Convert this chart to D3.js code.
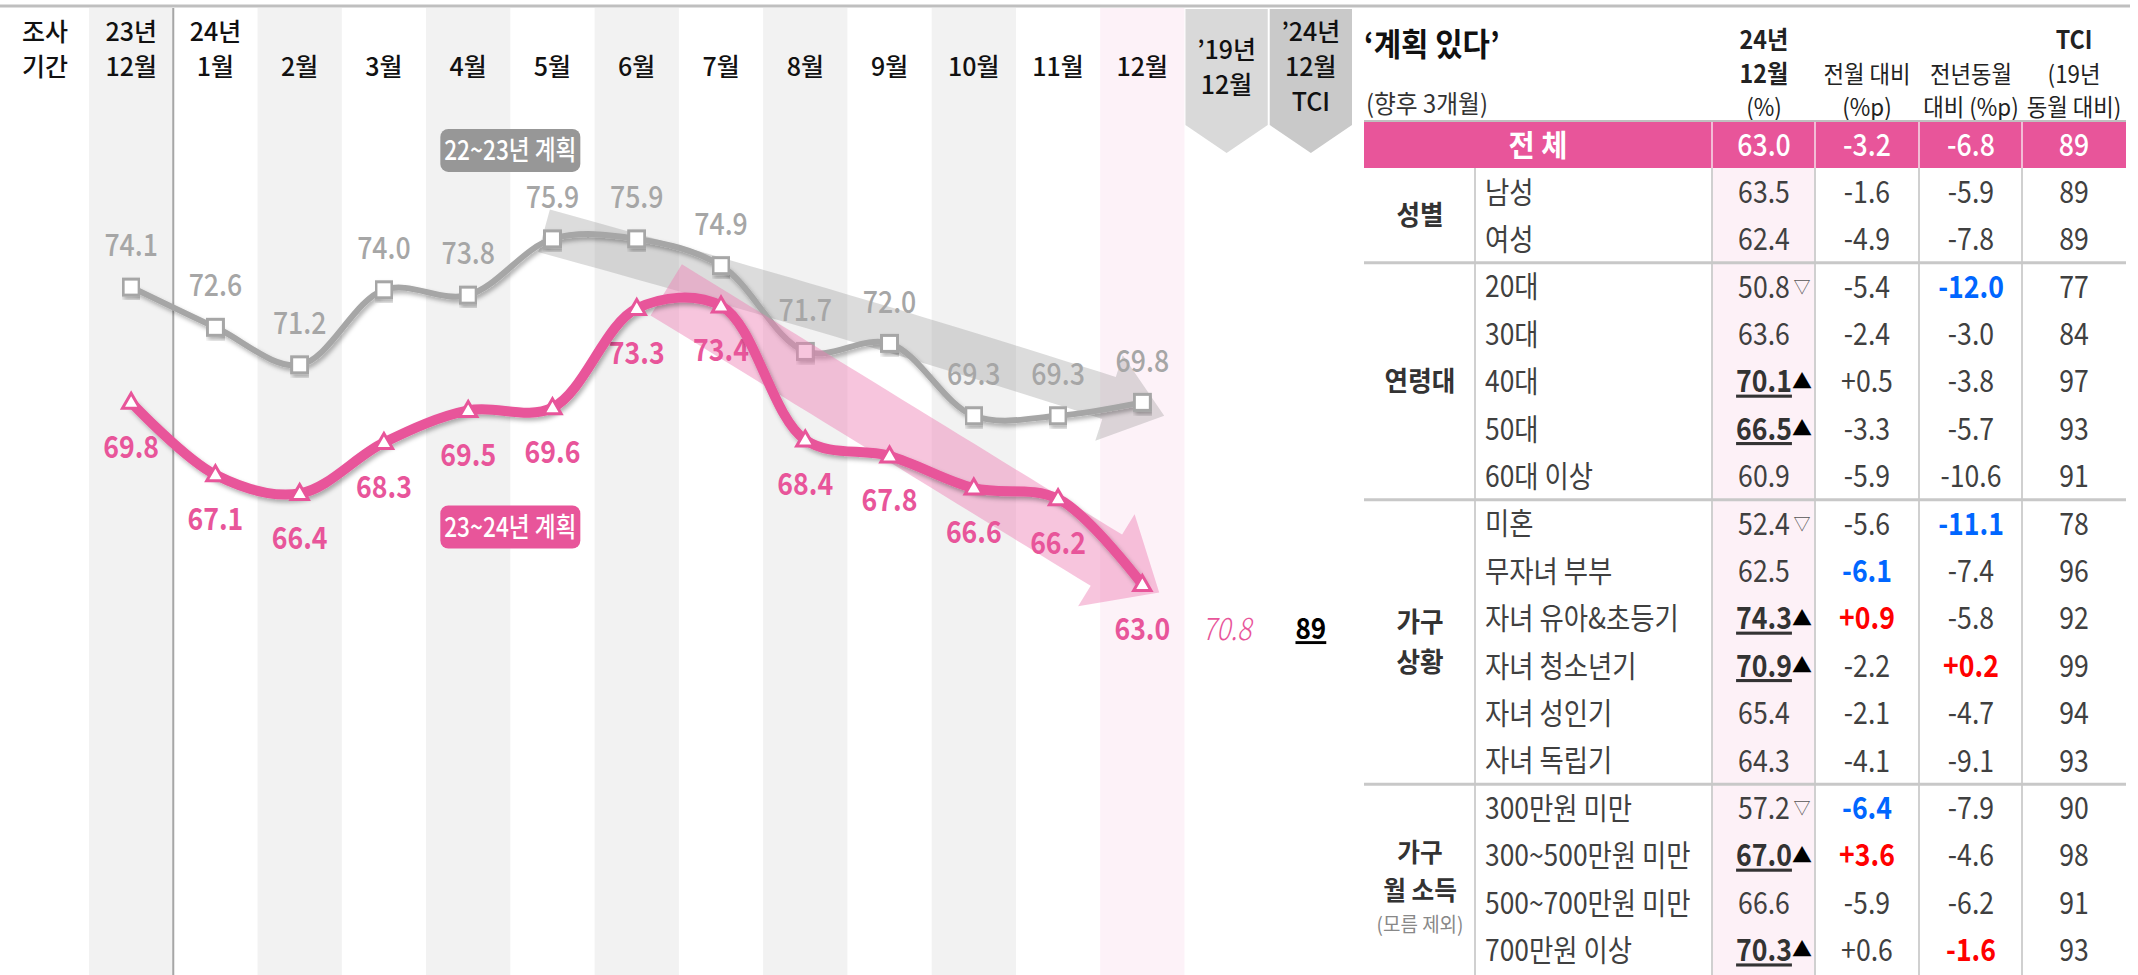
<!DOCTYPE html>
<html>
<head>
<meta charset="utf-8">
<script src="https://cdn.jsdelivr.net/npm/d3@7"></script>
<style>
  body { margin: 0; background: #fff; }
  svg text { font-family: "Noto Sans CJK KR", "Noto Sans", sans-serif; }
</style>
</head>
<body>
<svg id="chart" width="2138" height="975"></svg>
<script>
// ---- data ----
const monthHead = [['23년','12월'],['24년','1월'],['2월'],['3월'],['4월'],['5월'],['6월'],['7월'],['8월'],['9월'],['10월'],['11월'],['12월']];
const extraHead = [['’19년','12월'],['’24년','12월','TCI']];
const plan2223 = [74.1, 72.6, 71.2, 74.0, 73.8, 75.9, 75.9, 74.9, 71.7, 72.0, 69.3, 69.3, 69.8];
const plan2324 = [69.8, 67.1, 66.4, 68.3, 69.5, 69.6, 73.3, 73.4, 68.4, 67.8, 66.6, 66.2, 63.0];
const ref2019 = 70.8;
const tciNow = 89;
const seriesNames = ['22~23년 계획', '23~24년 계획'];

const groups = [['성별'], ['연령대'], ['가구','상황'], ['가구','월 소득','(모름 제외)']];
const groupSize = [2, 5, 6, 4];
const items = ['남성','여성','20대','30대','40대','50대','60대 이상','미혼','무자녀 부부','자녀 유아&초등기',
  '자녀 청소년기','자녀 성인기','자녀 독립기','300만원 미만','300~500만원 미만','500~700만원 미만','700만원 이상'];
const cur  = [63.5, 62.4, 50.8, 63.6, 70.1, 66.5, 60.9, 52.4, 62.5, 74.3, 70.9, 65.4, 64.3, 57.2, 67.0, 66.6, 70.3];
const sig  = ['', '', '▽', '', '▲', '▲', '', '▽', '', '▲', '▲', '', '', '▽', '▲', '', '▲'];
const mom  = [-1.6, -4.9, -5.4, -2.4, 0.5, -3.3, -5.9, -5.6, -6.1, 0.9, -2.2, -2.1, -4.1, -6.4, 3.6, -5.9, 0.6];
const momHi = ['', '', '', '', '', '', '', '', 'b', 'r', '', '', '', 'b', 'r', '', ''];
const yoy  = [-5.9, -7.8, -12.0, -3.0, -3.8, -5.7, -10.6, -11.1, -7.4, -5.8, 0.2, -4.7, -9.1, -7.9, -4.6, -6.2, -1.6];
const yoyHi = ['', '', 'b', '', '', '', '', 'b', '', '', 'r', '', '', '', '', '', 'r'];
const tci  = [89, 89, 77, 84, 97, 93, 91, 78, 96, 92, 99, 94, 93, 90, 98, 91, 93];
const totalRow = [63.0, -3.2, -6.8, 89];

// ---- setup ----
const svg = d3.select('#chart');
const PINK = '#e8559a', GRAY = '#a6a6a6';

const defs = svg.append('defs');
defs.append('filter').attr('id', 'sh').attr('x', '-5%').attr('y', '-20%').attr('width', '110%').attr('height', '150%')
  .append('feDropShadow').attr('dx', 2).attr('dy', 3).attr('stdDeviation', 2)
  .attr('flood-color', '#000').attr('flood-opacity', 0.3);

// text helper, the source font is a bit condensed
function txt(g, x, y, s, o = {}) {
  const t = g.append('text')
    .attr('transform', `translate(${x},${y}) scale(${o.sx ?? 0.9},1)`)
    .attr('text-anchor', o.anchor || 'middle')
    .attr('dy', '0.36em')
    .style('font-size', (o.size || 26) + 'px')
    .style('font-weight', o.weight || 400)
    .attr('fill', o.color || '#404040')
    .text(s);
  if (o.italic) t.style('font-style', 'italic');
  if (o.underline) t.style('text-decoration', 'underline');
  return t;
}

const x = d3.scaleBand().domain(d3.range(15)).range([89, 1353]);
const bw = x.bandwidth();
const cx = i => x(i) + bw / 2;
const y = d3.scaleLinear().domain([60, 80]).range([665, 129]);

// column shading
const bg = svg.append('g');
d3.range(13).forEach(i => {
  if (i % 2 === 0) bg.append('rect').attr('x', x(i)).attr('y', 8).attr('width', bw).attr('height', 967)
    .attr('fill', i === 12 ? '#fdf2f8' : '#f2f2f2');
});
bg.append('line').attr('x1', x(1)).attr('x2', x(1)).attr('y1', 8).attr('y2', 975)
  .attr('stroke', GRAY).attr('stroke-width', 2);
svg.append('line').attr('x1', 0).attr('x2', 2130).attr('y1', 6).attr('y2', 6)
  .attr('stroke', '#bfbfbf').attr('stroke-width', 3);

// pentagon headers
[13, 14].forEach((i, k) => {
  const x0 = x(i) + 1, x1 = x(i) + bw - 1;
  svg.append('path')
    .attr('d', `M${x0},9L${x1},9L${x1},125L${cx(i)},153L${x0},125Z`)
    .attr('fill', k === 0 ? '#d9d9d9' : '#c9c9c9');
});

// header labels
const head = svg.append('g');
const hOpt = { size: 25, weight: 500, color: '#111', sx: 1 };
txt(head, 45, 32, '조사', hOpt);
txt(head, 45, 67, '기간', hOpt);
monthHead.forEach((lines, i) => {
  const ys = lines.length === 2 ? [32, 67] : [67];
  lines.forEach((l, k) => txt(head, cx(i), ys[k], l, hOpt));
});
[[50, 85], [32, 67, 102]].forEach((ys, k) => {
  extraHead[k].forEach((l, j) => txt(head, cx(13 + k), ys[j], l, hOpt));
});

// trend arrows (behind the lines)
function arrowPath(S, C, T, w, hw, hl) {
  const L = Math.hypot(T[0] - C[0], T[1] - C[1]);
  const u = [(T[0] - C[0]) / L, (T[1] - C[1]) / L];
  const B = [T[0] - u[0] * hl, T[1] - u[1] * hl];
  const top = [], bot = [];
  for (let k = 0; k <= 30; k++) {
    const t = k / 30;
    const px = (1 - t) * (1 - t) * S[0] + 2 * (1 - t) * t * C[0] + t * t * B[0];
    const py = (1 - t) * (1 - t) * S[1] + 2 * (1 - t) * t * C[1] + t * t * B[1];
    const tx = 2 * (1 - t) * (C[0] - S[0]) + 2 * t * (B[0] - C[0]);
    const ty = 2 * (1 - t) * (C[1] - S[1]) + 2 * t * (B[1] - C[1]);
    const tl = Math.hypot(tx, ty), nx = -ty / tl, ny = tx / tl;
    top.push([px + nx * w / 2, py + ny * w / 2]);
    bot.push([px - nx * w / 2, py - ny * w / 2]);
  }
  const n = [-u[1], u[0]];
  const headPts = [[B[0] + n[0] * hw / 2, B[1] + n[1] * hw / 2], T, [B[0] - n[0] * hw / 2, B[1] - n[1] * hw / 2]];
  return 'M' + [...top, ...headPts, ...bot.reverse()].map(p => p[0].toFixed(1) + ',' + p[1].toFixed(1)).join('L') + 'Z';
}
const trendArrows = [
  { from: [4.9, 76.2], via: [8.6, 73.0], to: [12.26, 69.3], w: 44, hw: 90, hl: 58, fill: '#9a9a9a', op: 0.35 },
  { from: [6.35, 74.0], via: [9.3, 68.3], to: [12.2, 62.7], w: 60, hw: 108, hl: 62, fill: '#ee7fb4', op: 0.45 }
];
const pt = d => [cx(0) + d[0] * x.step(), y(d[1])];
const arrowG = trendArrows.map(a => svg.append('path')
  .attr('d', arrowPath(pt(a.from), pt(a.via), pt(a.to), a.w, a.hw, a.hl))
  .attr('fill', a.fill).attr('opacity', a.op));

const line = d3.line().x((d, i) => cx(i)).y(d => y(d)).curve(d3.curveCatmullRom.alpha(0.5));

// 22~23 series
const gGray = svg.append('g');
plan2223.forEach((d, i) => txt(gGray, cx(i), y(d) - 42, d.toFixed(1), { size: 31, weight: 500, color: GRAY, sx: 0.86 }));
gGray.append('path').attr('d', line(plan2223)).attr('fill', 'none').attr('stroke', GRAY)
  .attr('stroke-width', 6).attr('filter', 'url(#sh)');
gGray.selectAll('rect').data(plan2223).join('rect')
  .attr('x', (d, i) => cx(i) - 8).attr('y', d => y(d) - 8).attr('width', 16).attr('height', 16)
  .attr('fill', '#fff').attr('stroke', GRAY).attr('stroke-width', 3).attr('filter', 'url(#sh)');

// pink arrow above gray line
svg.node().appendChild(arrowG[1].node());

// 23~24 series
const gPink = svg.append('g');
plan2324.forEach((d, i) => txt(gPink, cx(i), y(d) + 44, d.toFixed(1), { size: 31, weight: 700, color: PINK, sx: 0.86 }));
gPink.append('path').attr('d', line(plan2324)).attr('fill', 'none').attr('stroke', PINK)
  .attr('stroke-width', 10).attr('filter', 'url(#sh)');
gPink.selectAll('path.mk').data(plan2324).join('path').attr('class', 'mk')
  .attr('d', d3.symbol(d3.symbolTriangle, 130))
  .attr('transform', (d, i) => `translate(${cx(i)},${y(d) + 1})`)
  .attr('fill', '#fff').attr('stroke', PINK).attr('stroke-width', 3);

txt(svg, cx(13), y(plan2324[12]) + 44, ref2019.toFixed(1), { size: 31, weight: 300, color: PINK, italic: true, sx: 0.86 });
txt(svg, cx(14), y(plan2324[12]) + 44, String(tciNow), { size: 29, weight: 700, color: '#000', underline: true, sx: 0.9 });

// series tags
[[79.2, '#979797'], [65.15, PINK]].forEach(([v, c], k) => {
  const bx = cx(0) + 4.5 * x.step();
  svg.append('rect').attr('x', bx - 70).attr('y', y(v) - 21.5).attr('width', 140).attr('height', 43)
    .attr('rx', 8).attr('fill', c);
  txt(svg, bx, y(v), seriesNames[k], { size: 27, weight: 500, color: '#fff', sx: 0.84 });
});

// ---- table ----
const T = svg.append('g');
const edges = [1364, 1475, 1712, 1815, 1919, 2022, 2126];
const colC = [1764, 1867, 1971, 2074];
const rowY = d3.scaleBand().domain(d3.range(items.length)).range([168, 168 + 47.4 * items.length]);
const rc = i => rowY(i) + rowY.bandwidth() / 2;

txt(T, 1364, 44, '‘계획 있다’', { anchor: 'start', size: 32, weight: 700, color: '#111', sx: 0.93 });
txt(T, 1366, 104, '(향후 3개월)', { anchor: 'start', size: 25, color: '#333', sx: 0.95 });
const hdr = [
  [['24년', 40, 700], ['12월', 74, 700], ['(%)', 107, 400]],
  [['전월 대비', 74, 400], ['(%p)', 107, 400]],
  [['전년동월', 74, 400], ['대비 (%p)', 107, 400]],
  [['TCI', 40, 700], ['(19년', 74, 400], ['동월 대비)', 107, 400]]
];
hdr.forEach((c, k) => c.forEach(([s, yy, w]) =>
  txt(T, colC[k], yy, s, { size: w === 700 ? 25 : 24, weight: w, color: '#222', sx: 0.93 })));

T.append('rect').attr('x', edges[0]).attr('y', 122).attr('width', edges[6] - edges[0]).attr('height', 46).attr('fill', PINK);
T.append('line').attr('x1', edges[0]).attr('x2', edges[6]).attr('y1', 121).attr('y2', 121)
  .attr('stroke', '#bfbfbf').attr('stroke-width', 2);
edges.slice(2, 6).forEach(e => T.append('line').attr('x1', e).attr('x2', e).attr('y1', 122).attr('y2', 168)
  .attr('stroke', '#f2bcd5').attr('stroke-width', 2));
txt(T, (edges[0] + edges[2]) / 2, 145, '전 체', { size: 30, weight: 700, color: '#fff', sx: 0.95 });
const fmtS = v => (v > 0 ? '+' : '') + v.toFixed(1);
[totalRow[0].toFixed(1), fmtS(totalRow[1]), fmtS(totalRow[2]), String(totalRow[3])]
  .forEach((s, k) => txt(T, colC[k], 145, s, { size: 31, weight: 500, color: '#fff', sx: 0.86 }));

T.append('rect').attr('x', edges[2]).attr('y', 168).attr('width', edges[3] - edges[2]).attr('height', 807).attr('fill', '#fdf1f7');
edges.slice(1, 6).forEach(e => T.append('line').attr('x1', e).attr('x2', e).attr('y1', 168).attr('y2', 975)
  .attr('stroke', '#d0d0d0').attr('stroke-width', 2));
let start = 0;
groups.forEach((g, k) => {
  const n = groupSize[k];
  const mid = rowY(start) + n * rowY.step() / 2;
  const ys = g.length === 1 ? [mid] : g.length === 2 ? [mid - 20, mid + 20] : [mid - 26, mid + 12, mid + 46];
  g.forEach((s, j) => {
    const small = s.startsWith('(');
    txt(T, 1420, ys[j], s, { size: small ? 20 : (g.length === 3 ? 26 : 27), weight: small ? 400 : 700,
      color: small ? '#888' : '#333', sx: 0.95 });
  });
  start += n;
  if (k < groups.length - 1)
    T.append('line').attr('x1', edges[0]).attr('x2', edges[6]).attr('y1', rowY(start)).attr('y2', rowY(start))
      .attr('stroke', '#c8c8c8').attr('stroke-width', 3);
});

const hiColor = { b: '#0066ff', r: '#ff0000', '': '#404040' };
items.forEach((s, i) => {
  const yy = rc(i);
  txt(T, 1485, yy, s, { anchor: 'start', size: 30, color: '#404040', sx: 0.88 });
  const up = sig[i] === '▲';
  txt(T, colC[0], yy, cur[i].toFixed(1), { size: 31, weight: up ? 700 : 400, color: up ? '#333' : '#404040', underline: up, sx: 0.86 });
  if (sig[i]) txt(T, 1802, yy, sig[i], { size: up ? 20 : 17, color: up ? '#000' : '#555', sx: 1 });
  txt(T, colC[1], yy, fmtS(mom[i]), { size: 31, weight: momHi[i] ? 600 : 400, color: hiColor[momHi[i]], sx: 0.86 });
  txt(T, colC[2], yy, fmtS(yoy[i]), { size: 31, weight: yoyHi[i] ? 600 : 400, color: hiColor[yoyHi[i]], sx: 0.86 });
  txt(T, colC[3], yy, String(tci[i]), { size: 31, color: '#404040', sx: 0.86 });
});
</script>
</body>
</html>
